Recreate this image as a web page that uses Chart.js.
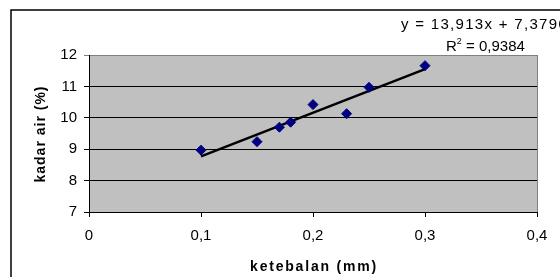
<!DOCTYPE html>
<html lang="id">
<head>
<meta charset="UTF-8">
<title>Kadar air vs ketebalan</title>
<script src="https://cdn.jsdelivr.net/npm/chart.js"></script>
<style>
    html, body { margin: 0; padding: 0; background: #fff; }
    #wrap { width: 560px; height: 277px; position: relative; }
</style>
</head>
<body>
<div id="wrap"><canvas id="chart"></canvas></div>
<script>
// data
const thickness = [0.10, 0.15, 0.17, 0.18, 0.20, 0.23, 0.25, 0.30];
const moisture  = [8.97, 9.24, 9.70, 9.86, 10.42, 10.13, 10.97, 11.66];
// trend line end points (as drawn)
const trendX = [0.10, 0.30];
const trendY = [8.77, 11.55];
const xTickLabels = ['0', '0,1', '0,2', '0,3', '0,4'];
const yTickLabels = ['7', '8', '9', '10', '11', '12'];
const xTitle = 'ketebalan (mm)';
const yTitle = 'kadar air (%)';
const equationText = 'y = 13,913x + 7,3796';
const r2Text = ' = 0,9384';

const FONT = "'Liberation Sans', Arial, sans-serif";
Chart.defaults.font.family = FONT;
Chart.defaults.color = '#000';

// grey plot area, outer frame, axis titles and the trend equation
const decorPlugin = {
    id: 'decor',
    beforeDraw(chart) {
        const { ctx, chartArea: a } = chart;
        ctx.save();
        ctx.fillStyle = '#fff';
        ctx.fillRect(0, 0, chart.width, chart.height);
        ctx.strokeStyle = '#000';
        ctx.lineWidth = 1.5;
        ctx.strokeRect(11, 10, 700, 400);
        ctx.fillStyle = '#c0c0c0';
        ctx.fillRect(a.left, a.top, a.right - a.left, a.bottom - a.top);
        ctx.strokeStyle = '#808080';
        ctx.lineWidth = 1;
        ctx.strokeRect(a.left + 0.5, a.top + 0.5, a.right - a.left, a.bottom - a.top);
        ctx.restore();
    },
    afterDraw(chart) {
        const { ctx, chartArea: a } = chart;
        ctx.save();
        ctx.fillStyle = '#000';
        ctx.textBaseline = 'middle';

        // axis titles
        ctx.textAlign = 'center';
        ctx.font = 'bold 14px ' + FONT;
        ctx.letterSpacing = '1.8px';
        ctx.fillText(xTitle, (a.left + a.right) / 2 + 1, 267);
        ctx.letterSpacing = '1px';
        ctx.translate(41, 134);
        ctx.rotate(-Math.PI / 2);
        ctx.fillText(yTitle, 0, 0);
        ctx.setTransform(1, 0, 0, 1, 0, 0);

        // trend equation
        ctx.textAlign = 'left';
        ctx.font = '15px ' + FONT;
        ctx.letterSpacing = '1.3px';
        ctx.fillText(equationText, 401, 25);
        ctx.letterSpacing = '0px';
        ctx.fillText('R', 446, 47);
        const rw = ctx.measureText('R').width;
        ctx.font = '9px ' + FONT;
        ctx.fillText('2', 446 + rw, 42);
        const sw = ctx.measureText('2').width;
        ctx.font = '15px ' + FONT;
        ctx.fillText(r2Text, 446 + rw + sw, 47);
        ctx.restore();
    }
};

new Chart(document.getElementById('chart'), {
    type: 'scatter',
    data: {
        datasets: [
            {
                label: 'kadar air',
                data: thickness.map((x, i) => ({ x: x, y: moisture[i] })),
                pointStyle: 'rectRot',
                pointRadius: 5,
                pointBackgroundColor: '#000080',
                pointBorderColor: '#000080',
                order: 1
            },
            {
                label: 'trend',
                type: 'line',
                data: trendX.map((x, i) => ({ x: x, y: trendY[i] })),
                borderColor: '#000',
                borderWidth: 2.5,
                pointRadius: 0,
                fill: false,
                order: 2
            }
        ]
    },
    options: {
        responsive: true,
        maintainAspectRatio: false,
        animation: false,
        layout: { padding: { left: 0, right: 23, top: 55, bottom: 0 } },
        plugins: {
            legend: { display: false },
            tooltip: { enabled: false }
        },
        scales: {
            x: {
                type: 'linear',
                min: 0,
                max: 0.4,
                afterFit(scale) { scale.height = 65; },
                afterBuildTicks(scale) {
                    scale.ticks = xTickLabels.map((t, i) => ({ value: i * 0.1 }));
                },
                ticks: {
                    autoSkip: false,
                    maxRotation: 0,
                    padding: 10,
                    font: { size: 15 },
                    callback: (v, i) => xTickLabels[i]
                },
                grid: {
                    drawOnChartArea: false,
                    drawTicks: true,
                    tickLength: 5,
                    color: '#000'
                },
                border: { display: true, color: '#000', width: 1 }
            },
            y: {
                type: 'linear',
                min: 7,
                max: 12,
                afterFit(scale) { scale.width = 89; },
                afterBuildTicks(scale) {
                    scale.ticks = yTickLabels.map((t, i) => ({ value: 7 + i }));
                },
                ticks: {
                    autoSkip: false,
                    padding: 7,
                    font: { size: 15 },
                    callback: (v, i) => yTickLabels[i]
                },
                grid: {
                    drawTicks: true,
                    tickLength: 5,
                    color: (c) => c.tick && c.tick.value === 12 ? '#808080' : '#000'
                },
                border: { display: true, color: '#000', width: 1 }
            }
        }
    },
    plugins: [decorPlugin]
});
</script>
</body>
</html>
